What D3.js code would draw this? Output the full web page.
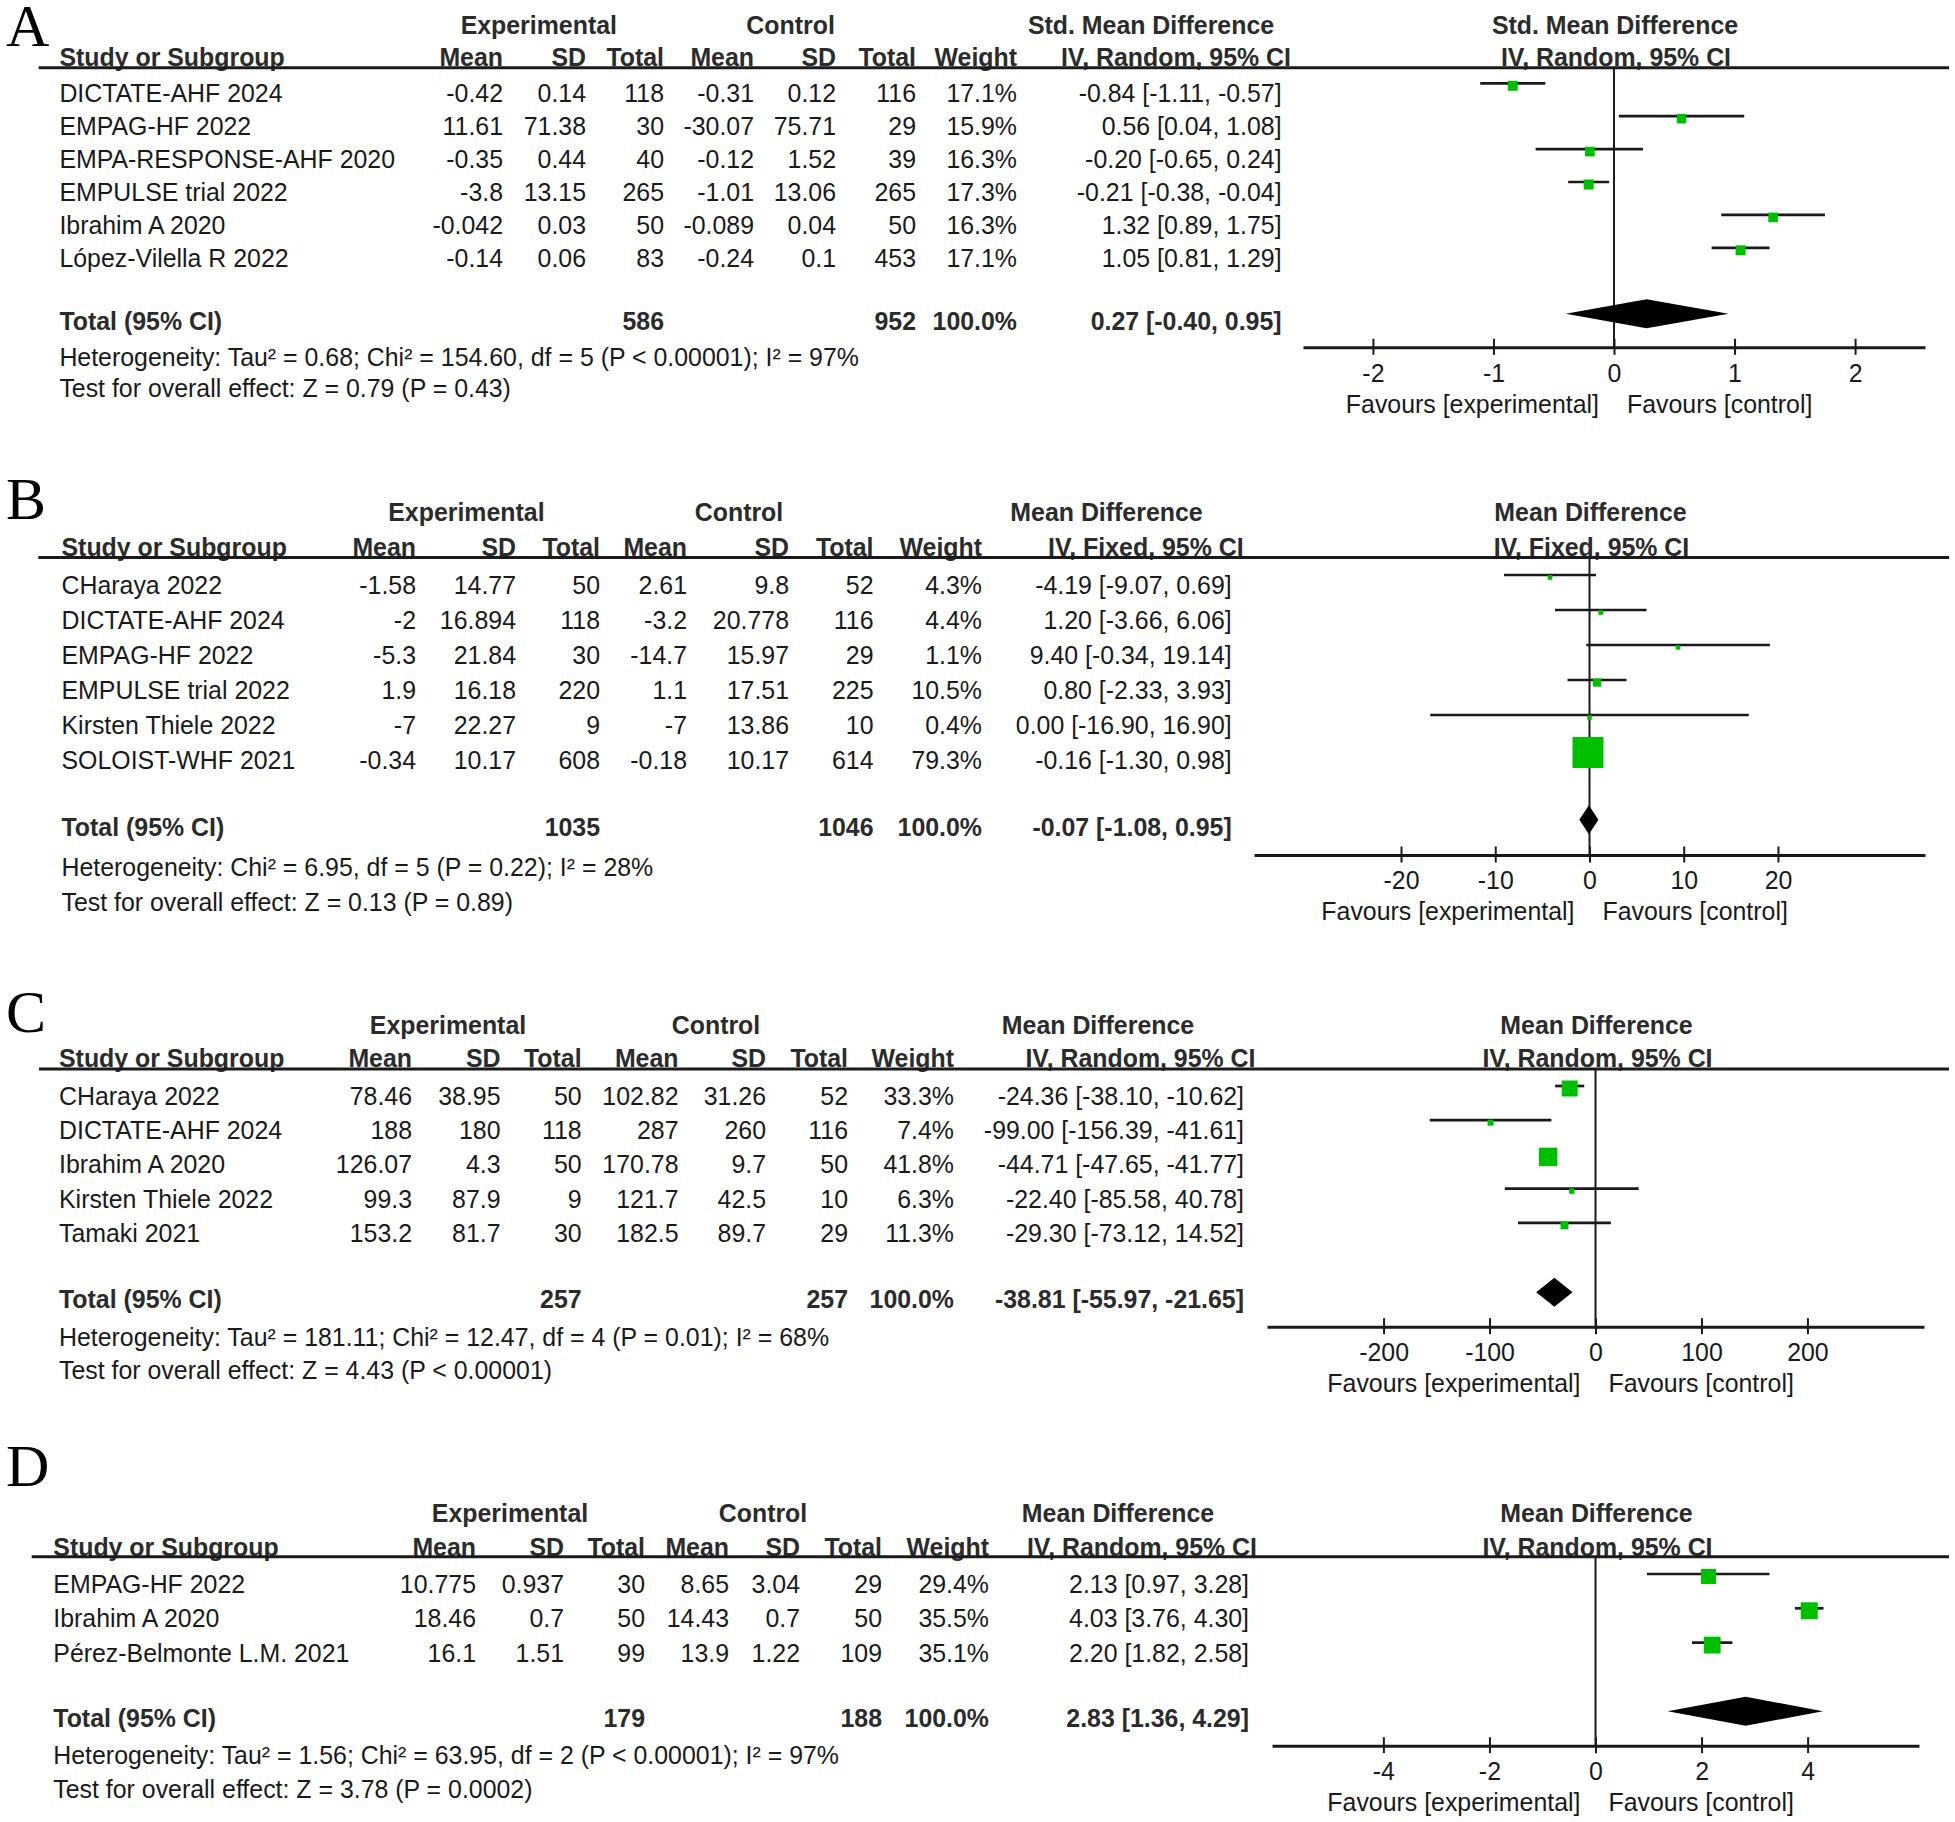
<!DOCTYPE html>
<html>
<head>
<meta charset="utf-8">
<script src="https://cdn.jsdelivr.net/npm/d3@7"></script>
<style>
  body { margin: 0; background: #fff; }
</style>
</head>
<body>
<svg id="chart"></svg>
<script>
// ---- Panel A ----
const studiesA = ["DICTATE-AHF 2024", "EMPAG-HF 2022", "EMPA-RESPONSE-AHF 2020", "EMPULSE trial 2022", "Ibrahim A 2020", "López-Vilella R 2022"];
const expMeanA = [-0.42, 11.61, -0.35, -3.8, -0.042, -0.14];
const expSdA = [0.14, 71.38, 0.44, 13.15, 0.03, 0.06];
const expNA = [118, 30, 40, 265, 50, 83];
const ctlMeanA = [-0.31, -30.07, -0.12, -1.01, -0.089, -0.24];
const ctlSdA = [0.12, 75.71, 1.52, 13.06, 0.04, 0.1];
const ctlNA = [116, 29, 39, 265, 50, 453];
const weightA = [17.1, 15.9, 16.3, 17.3, 16.3, 17.1];
const estA = [-0.84, 0.56, -0.20, -0.21, 1.32, 1.05];
const lowA = [-1.11, 0.04, -0.65, -0.38, 0.89, 0.81];
const highA = [-0.57, 1.08, 0.24, -0.04, 1.75, 1.29];
const totalNA = [586, 952];
const pooledA = [0.27, -0.40, 0.95];
const statsA = ["Heterogeneity: Tau² = 0.68; Chi² = 154.60, df = 5 (P < 0.00001); I² = 97%", "Test for overall effect: Z = 0.79 (P = 0.43)"];
const headA = ["Std. Mean Difference", "IV, Random, 95% CI"];
const ticksA = [-2, -1, 0, 1, 2];

// ---- Panel B ----
const studiesB = ["CHaraya 2022", "DICTATE-AHF 2024", "EMPAG-HF 2022", "EMPULSE trial 2022", "Kirsten Thiele 2022", "SOLOIST-WHF 2021"];
const expMeanB = [-1.58, -2, -5.3, 1.9, -7, -0.34];
const expSdB = [14.77, 16.894, 21.84, 16.18, 22.27, 10.17];
const expNB = [50, 118, 30, 220, 9, 608];
const ctlMeanB = [2.61, -3.2, -14.7, 1.1, -7, -0.18];
const ctlSdB = [9.8, 20.778, 15.97, 17.51, 13.86, 10.17];
const ctlNB = [52, 116, 29, 225, 10, 614];
const weightB = [4.3, 4.4, 1.1, 10.5, 0.4, 79.3];
const estB = [-4.19, 1.20, 9.40, 0.80, 0.00, -0.16];
const lowB = [-9.07, -3.66, -0.34, -2.33, -16.90, -1.30];
const highB = [0.69, 6.06, 19.14, 3.93, 16.90, 0.98];
const totalNB = [1035, 1046];
const pooledB = [-0.07, -1.08, 0.95];
const statsB = ["Heterogeneity: Chi² = 6.95, df = 5 (P = 0.22); I² = 28%", "Test for overall effect: Z = 0.13 (P = 0.89)"];
const headB = ["Mean Difference", "IV, Fixed, 95% CI"];
const ticksB = [-20, -10, 0, 10, 20];

// ---- Panel C ----
const studiesC = ["CHaraya 2022", "DICTATE-AHF 2024", "Ibrahim A 2020", "Kirsten Thiele 2022", "Tamaki 2021"];
const expMeanC = [78.46, 188, 126.07, 99.3, 153.2];
const expSdC = [38.95, 180, 4.3, 87.9, 81.7];
const expNC = [50, 118, 50, 9, 30];
const ctlMeanC = [102.82, 287, 170.78, 121.7, 182.5];
const ctlSdC = [31.26, 260, 9.7, 42.5, 89.7];
const ctlNC = [52, 116, 50, 10, 29];
const weightC = [33.3, 7.4, 41.8, 6.3, 11.3];
const estC = [-24.36, -99.00, -44.71, -22.40, -29.30];
const lowC = [-38.10, -156.39, -47.65, -85.58, -73.12];
const highC = [-10.62, -41.61, -41.77, 40.78, 14.52];
const totalNC = [257, 257];
const pooledC = [-38.81, -55.97, -21.65];
const statsC = ["Heterogeneity: Tau² = 181.11; Chi² = 12.47, df = 4 (P = 0.01); I² = 68%", "Test for overall effect: Z = 4.43 (P < 0.00001)"];
const headC = ["Mean Difference", "IV, Random, 95% CI"];
const ticksC = [-200, -100, 0, 100, 200];

// ---- Panel D ----
const studiesD = ["EMPAG-HF 2022", "Ibrahim A 2020", "Pérez-Belmonte L.M. 2021"];
const expMeanD = [10.775, 18.46, 16.1];
const expSdD = [0.937, 0.7, 1.51];
const expND = [30, 50, 99];
const ctlMeanD = [8.65, 14.43, 13.9];
const ctlSdD = [3.04, 0.7, 1.22];
const ctlND = [29, 50, 109];
const weightD = [29.4, 35.5, 35.1];
const estD = [2.13, 4.03, 2.20];
const lowD = [0.97, 3.76, 1.82];
const highD = [3.28, 4.30, 2.58];
const totalND = [179, 188];
const pooledD = [2.83, 1.36, 4.29];
const statsD = ["Heterogeneity: Tau² = 1.56; Chi² = 63.95, df = 2 (P < 0.00001); I² = 97%", "Test for overall effect: Z = 3.78 (P = 0.0002)"];
const headD = ["Mean Difference", "IV, Random, 95% CI"];
const ticksD = [-4, -2, 0, 2, 4];

const W = 1955, H = 1822;
const FONT = "'Liberation Sans', Arial, sans-serif";
const FS = 24.9;
const INK = "#1a1a1a";
const HEAD_INK = "#2b2b2b";
const GREEN = "#00bf00";

const panels = [
	{
		label: "A", studies: studiesA, cols: [expMeanA, expSdA, expNA, ctlMeanA, ctlSdA, ctlNA],
		weight: weightA, est: estA, low: lowA, high: highA, totals: totalNA, pooled: pooledA,
		stats: statsA, head: headA, ticks: ticksA,
		lay: { letterY: 46, hdr1: 25, hdr2: 57.3, rule: 67.7, ruleX0: 38.7, textX: 59.4, row0: 93.3, step: 32.9,
			totalY: 320.7, hetY: 357.3, testY: 388.3, axisY: 347.3,
			colX: [503, 586, 664, 754, 836, 916, 1017, 1281.6], ciHeadX: 1291, groupX: [538.8, 790.6, 1151],
			dom: 2.58, range: [1303, 1925], boxMax: 10 }
	},
	{
		label: "B", studies: studiesB, cols: [expMeanB, expSdB, expNB, ctlMeanB, ctlSdB, ctlNB],
		weight: weightB, est: estB, low: lowB, high: highB, totals: totalNB, pooled: pooledB,
		stats: statsB, head: headB, ticks: ticksB,
		lay: { letterY: 519.3, hdr1: 512.3, hdr2: 546.7, rule: 557.5, ruleX0: 38.3, textX: 61.5, row0: 585, step: 35,
			totalY: 826.7, hetY: 866.7, testY: 901.7, axisY: 855,
			colX: [416, 516, 600, 687, 789, 873.5, 982, 1231.7], ciHeadX: 1243.6, groupX: [466.4, 739, 1106.5],
			dom: 35.6, range: [1254, 1925], boxMax: 31 }
	},
	{
		label: "C", studies: studiesC, cols: [expMeanC, expSdC, expNC, ctlMeanC, ctlSdC, ctlNC],
		weight: weightC, est: estC, low: lowC, high: highC, totals: totalNC, pooled: pooledC,
		stats: statsC, head: headC, ticks: ticksC,
		lay: { letterY: 1032, hdr1: 1025, hdr2: 1058.3, rule: 1069, ruleX0: 39, textX: 59, row0: 1096, step: 34.2,
			totalY: 1299.3, hetY: 1337.3, testY: 1370, axisY: 1326.7,
			colX: [412, 500.5, 581.6, 678.5, 766, 848, 954, 1244], ciHeadX: 1255.5, groupX: [448, 716, 1098],
			dom: 310, range: [1267, 1924], boxMax: 18.5 }
	},
	{
		label: "D", studies: studiesD, cols: [expMeanD, expSdD, expND, ctlMeanD, ctlSdD, ctlND],
		weight: weightD, est: estD, low: lowD, high: highD, totals: totalND, pooled: pooledD,
		stats: statsD, head: headD, ticks: ticksD,
		lay: { letterY: 1486, hdr1: 1512.7, hdr2: 1546.7, rule: 1556.7, ruleX0: 31.7, textX: 53.3, row0: 1584, step: 34.3,
			totalY: 1718.3, hetY: 1755, testY: 1789, axisY: 1745.7,
			colX: [476, 564, 645, 729, 800, 882, 989, 1249], ciHeadX: 1257, groupX: [510, 763, 1118],
			dom: 6.1, range: [1272, 1919], boxMax: 17 }
	}
];

const svg = d3.select("#chart")
	.attr("width", W)
	.attr("height", H)
	.attr("viewBox", [0, 0, W, H])
	.style("background", "#fff");

const ci = (e, l, h) => e.toFixed(2) + " [" + l.toFixed(2) + ", " + h.toFixed(2) + "]";

function txt(g, x, y, s, anchor, bold) {
	return g.append("text")
		.attr("x", x)
		.attr("y", y)
		.attr("dy", "0.358em")
		.attr("text-anchor", anchor || "start")
		.attr("font-family", FONT)
		.attr("font-size", FS)
		.attr("font-weight", bold ? "bold" : "normal")
		.attr("fill", bold ? HEAD_INK : INK)
		.text(s);
}

function drawPanel(p) {
	const L = p.lay;
	const g = svg.append("g");
	const n = p.studies.length;

	const x = d3.scaleLinear().domain([-L.dom, L.dom]).range(L.range);
	const y = d3.scaleLinear().domain([0, 1]).range([L.row0, L.row0 + L.step]);
	const box = d3.scalePow().exponent(0.65).domain([0, d3.max(p.weight)]).range([0, L.boxMax]);
	const side = i => Math.max(4.5, box(p.weight[i]));

	// panel letter
	g.append("text")
		.attr("x", 6)
		.attr("y", L.letterY)
		.attr("font-family", "'Liberation Serif', 'Times New Roman', serif")
		.attr("font-size", 60)
		.attr("fill", "#000")
		.text(p.label);

	// headers
	txt(g, L.groupX[0], L.hdr1, "Experimental", "middle", true);
	txt(g, L.groupX[1], L.hdr1, "Control", "middle", true);
	txt(g, L.groupX[2], L.hdr1, p.head[0], "middle", true);
	txt(g, x(0) + 1, L.hdr1, p.head[0], "middle", true);

	txt(g, L.textX, L.hdr2, "Study or Subgroup", "start", true);
	["Mean", "SD", "Total", "Mean", "SD", "Total", "Weight"].forEach((h, i) => {
		txt(g, L.colX[i], L.hdr2, h, "end", true);
	});
	txt(g, L.ciHeadX, L.hdr2, p.head[1], "end", true);
	txt(g, x(0) + 2, L.hdr2, p.head[1], "middle", true);

	g.append("line")
		.attr("x1", L.ruleX0).attr("x2", 1949)
		.attr("y1", L.rule).attr("y2", L.rule)
		.attr("stroke", INK).attr("stroke-width", 3);

	// study rows
	p.studies.forEach((s, i) => {
		const ty = y(i);
		txt(g, L.textX, ty, s);
		p.cols.forEach((col, j) => txt(g, L.colX[j], ty, String(col[i]), "end"));
		txt(g, L.colX[6], ty, p.weight[i].toFixed(1) + "%", "end");
		txt(g, L.colX[7], ty, ci(p.est[i], p.low[i], p.high[i]), "end");
	});

	// total row
	txt(g, L.textX, L.totalY, "Total (95% CI)", "start", true);
	txt(g, L.colX[2], L.totalY, String(p.totals[0]), "end", true);
	txt(g, L.colX[5], L.totalY, String(p.totals[1]), "end", true);
	txt(g, L.colX[6], L.totalY, "100.0%", "end", true);
	txt(g, L.colX[7], L.totalY, ci(p.pooled[0], p.pooled[1], p.pooled[2]), "end", true);

	txt(g, L.textX, L.hetY, p.stats[0]);
	txt(g, L.textX, L.testY, p.stats[1]);

	// line of no effect
	g.append("line")
		.attr("x1", x(0)).attr("x2", x(0))
		.attr("y1", L.rule).attr("y2", L.axisY)
		.attr("stroke", INK).attr("stroke-width", 2);

	// confidence intervals
	const rows = d3.range(n);
	g.append("g")
		.selectAll("line")
		.data(rows)
		.join("line")
		.attr("x1", i => x(p.low[i]))
		.attr("x2", i => x(p.high[i]))
		.attr("y1", i => y(i) - 10)
		.attr("y2", i => y(i) - 10)
		.attr("stroke", INK)
		.attr("stroke-width", 2.7);

	// weighted squares
	g.append("g")
		.attr("fill", GREEN)
		.selectAll("rect")
		.data(rows)
		.join("rect")
		.attr("x", i => x(p.est[i]) - side(i) / 2)
		.attr("y", i => y(i) - 7.5 - side(i) / 2)
		.attr("width", side)
		.attr("height", side);

	// pooled diamond
	const dy = L.totalY - 7;
	g.append("path")
		.attr("d", d3.line()([
			[x(p.pooled[1]), dy],
			[x(p.pooled[0]), dy - 14.5],
			[x(p.pooled[2]), dy],
			[x(p.pooled[0]), dy + 14.5]
		]) + "Z")
		.attr("fill", "#000");

	// axis
	const ax = g.append("g")
		.attr("transform", `translate(0,${L.axisY})`)
		.call(d3.axisBottom(x)
			.tickValues(p.ticks)
			.tickFormat(d => String(d))
			.tickSizeOuter(0));
	ax.select(".domain").attr("stroke", INK).attr("stroke-width", 3);
	ax.selectAll(".tick line")
		.attr("y1", -8.5).attr("y2", 7.5)
		.attr("stroke", INK).attr("stroke-width", 2);
	ax.selectAll(".tick text")
		.attr("y", 25.5).attr("dy", "0.358em")
		.attr("font-family", FONT).attr("font-size", FS).attr("fill", INK);

	txt(g, x(0) - 15, L.axisY + 56.5, "Favours [experimental]", "end");
	txt(g, x(0) + 13, L.axisY + 56.5, "Favours [control]", "start");
}

panels.forEach(drawPanel);
</script>
</body>
</html>
